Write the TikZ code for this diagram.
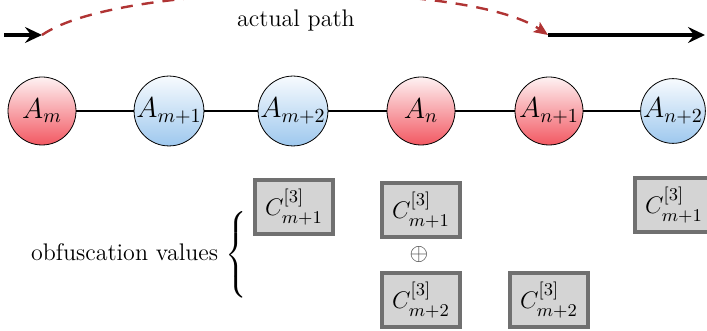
\documentclass[tikz,border=0pt]{standalone}
\usepackage{amsmath,amssymb}
\usepackage{xcolor}
\usetikzlibrary{arrows.meta,positioning,calc}
\definecolor{pathred}{RGB}{176,52,52}
\definecolor{nodered}{RGB}{242,88,98}
\definecolor{nodeblue}{RGB}{158,200,238}
\definecolor{boxgray}{RGB}{212,212,212}
\definecolor{boxedge}{RGB}{112,112,112}

\begin{document}
\begin{tikzpicture}[x=0.5pt, y=-0.5pt,
  key/.style={circle, draw, thin, inner sep=0pt, minimum size=34pt, font=\Large,
    top color=nodered!8, bottom color=nodered},
  plain/.style={circle, draw, thin, inner sep=0pt, minimum size=32pt, font=\Large,
    top color=nodeblue!8, bottom color=nodeblue},
  obf/.style={draw=boxedge, line width=1.6pt, fill=boxgray, minimum width=39pt,
    minimum height=27pt, inner sep=1pt, font=\fontsize{13}{15}\selectfont},
  link/.style={draw, line width=1pt},
  flow/.style={line width=1.6pt, -{Stealth[length=8.5pt,width=8pt,inset=3pt]}},
  hop/.style={pathred, line width=1.2pt, dash pattern=on 6pt off 4.5pt,
    -{Stealth[length=7pt,width=6pt,inset=1.5pt]}},
]
\path[use as bounding box, clip] (0,0) rectangle (707,331);

% chain of nodes
\node[key] (am) at (42,111) {$A_m$};
\node[plain] (am1) at (169,111) {$A_{m+1}$};
\node[plain] (am2) at (293,111) {$A_{m+2}$};
\node[key] (an) at (421,111) {$A_n$};
\node[key] (an1) at (549,111) {$A_{n+1}$};
\node[plain] (an2) at (673,111) {$A_{n+2}$};
\draw[link] (am) -- (am1) -- (am2) -- (an) -- (an1) -- (an2);

% actual path
\coordinate (src) at (4,35);
\coordinate (jump) at (42,35);
\coordinate (land) at (548,35);
\coordinate (dst) at (705,35);
\draw[flow] (src) -- (jump);
\draw[hop] (jump) .. controls +(80,-55) and +(-80,-55) .. (land);
\draw[flow] (land) -- (dst);
\node[font=\large] (lbl) at (296,21) {actual path};

% obfuscation values
\node[anchor=east, font=\large, inner sep=0pt] (lab) at (250,255)
  {obfuscation values\ $\left\{\rule[-18pt]{0pt}{36pt}\right.$};
\node[obf] (c1) at (294,207) {$C^{[3]}_{m+1}$};
\node[obf] (c2) at (421,210) {$C^{[3]}_{m+1}$};
\node[font=\large, text=black!75] (xor) at (419,255) {$\oplus$};
\node[obf] (c3) at (421,300) {$C^{[3]}_{m+2}$};
\node[obf] (c4) at (549,300) {$C^{[3]}_{m+2}$};
\node[obf] (c5) at (674,205) {$C^{[3]}_{m+1}$};
\end{tikzpicture}
\end{document}
